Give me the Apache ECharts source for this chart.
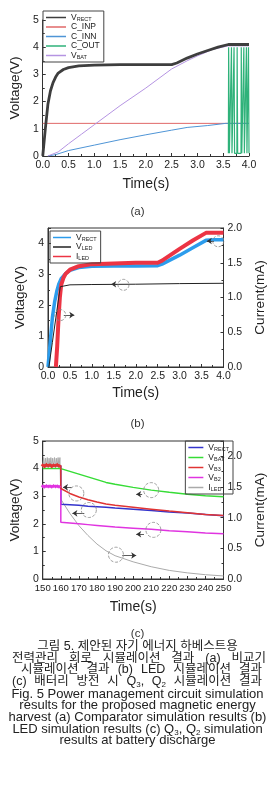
<!DOCTYPE html>
<html>
<head>
<meta charset="utf-8">
<script src="https://cdn.jsdelivr.net/npm/echarts@6/dist/echarts.min.js"></script>
<style>
body { margin:0; background:#fff; }
#chart { position:absolute; left:0; top:0; width:275px; height:788px; }
#cap { position:absolute; left:0; top:641px; width:275px; font-family:'Liberation Sans','Noto Sans CJK KR',sans-serif; font-size:13px; line-height:11.67px; color:#222; }
#cap div { white-space:nowrap; height:11.67px; }
#cap .k { font-size:12.5px; }
#cap sub { font-size:8px; line-height:0; vertical-align:-2px; }
.c { text-align:center; }
.j { text-align:justify; text-align-last:justify; }
</style>
</head>
<body>
<div id="chart"></div>
<div id="cap">
<div class="c k">그림 5. 제안된 자기 에너지 하베스트용</div>
<div class="j k" style="padding:0 9px 0 12px">전력관리 회로 시뮬레이션 결과 (a) 비교기</div>
<div class="j k" style="padding:0 13px 0 21px">시뮬레이션 결과 (b) LED 시뮬레이션 결과</div>
<div class="j k" style="padding:0 13px 0 12px">(c) 배터리 방전 시 Q<sub>3</sub>, Q<sub>2</sub> 시뮬레이션 결과</div>
<div class="c">Fig. 5 Power management circuit simulation</div>
<div class="c">results for the proposed magnetic energy</div>
<div class="c">harvest (a) Comparator simulation results (b)</div>
<div class="c">LED simulation results (c) Q<sub>3</sub>, Q<sub>2</sub> simulation</div>
<div class="c">results at battery discharge</div>
</div>
<script>
// ---- (a) comparator ----
let aRectT = [0, 0.05, 0.1, 0.15, 0.2, 0.25, 0.3, 0.4, 0.5, 0.7, 1.0, 1.5, 2.0, 2.5, 2.6, 2.8, 3.0, 3.2, 3.4, 3.6, 3.8, 4.0];
let aRectV = [0, 1.0, 1.9, 2.4, 2.7, 2.9, 3.05, 3.18, 3.25, 3.31, 3.34, 3.36, 3.36, 3.36, 3.42, 3.6, 3.75, 3.88, 4.0, 4.1, 4.1, 4.1];
let aInpT = [0, 4.0];
let aInpV = [1.2, 1.2];
let aInnT = [0.1, 0.25, 0.5, 1.0, 1.5, 2.0, 2.5, 2.8, 3.2, 3.55, 4.0];
let aInnV = [0, 0.05, 0.2, 0.4, 0.6, 0.78, 0.95, 1.05, 1.12, 1.2, 1.2];
let aOutT = [3.6, 3.605, 3.615, 3.62, 3.655, 3.66, 3.665, 3.67, 3.705, 3.71, 3.715, 3.72, 3.765, 3.77, 3.775, 3.78, 3.845, 3.85, 3.855, 3.86, 3.895, 3.9, 3.905, 3.91, 3.945, 3.95, 3.955, 3.96, 3.985, 3.99, 3.995, 4.0];
let aOutV = [0.1, 4.0, 4.0, 0.1, 0.1, 4.0, 4.0, 0.1, 0.1, 4.0, 4.0, 0.1, 0.1, 4.0, 4.0, 0.1, 0.1, 4.0, 4.0, 0.1, 0.1, 4.0, 4.0, 0.1, 0.1, 4.0, 4.0, 0.1, 0.1, 4.0, 4.0, 0.1];
let aBatT = [0.1, 0.3, 0.5, 0.75, 1.0, 1.5, 2.0, 2.5, 2.8, 3.0, 3.3, 3.6, 4.0];
let aBatV = [0, 0.15, 0.45, 0.8, 1.15, 1.85, 2.5, 3.2, 3.5, 3.68, 3.92, 4.05, 4.05];

// ---- (b) LED ----
let bRectT = [0, 0.05, 0.1, 0.15, 0.2, 0.25, 0.3, 0.4, 0.5, 0.7, 1.0, 1.5, 2.0, 2.5, 2.6, 3.0, 3.3, 3.6, 3.8, 4.0];
let bRectV = [0, 0.8, 1.6, 2.1, 2.45, 2.7, 2.86, 3.02, 3.13, 3.22, 3.26, 3.27, 3.27, 3.28, 3.33, 3.62, 3.86, 4.1, 4.12, 4.12];
let bLedT = [0.02, 0.1, 0.2, 0.28, 0.3, 0.5, 1.0, 2.0, 3.0, 4.0];
let bLedV = [0, 0.8, 1.8, 2.6, 2.65, 2.66, 2.67, 2.68, 2.7, 2.71];
let bIledT = [0.18, 0.21, 0.24, 0.27, 0.3, 0.35, 0.4, 0.5, 0.7, 1.0, 1.5, 2.0, 2.5, 2.6, 3.0, 3.3, 3.6, 4.0];
let bIledV = [0, 0.3, 0.7, 1.0, 1.18, 1.28, 1.34, 1.4, 1.45, 1.48, 1.49, 1.5, 1.5, 1.53, 1.7, 1.82, 1.93, 1.93];

// ---- (c) discharge ----
let cT = [160, 165, 170, 175, 180, 185, 190, 200, 210, 220, 230, 240, 250];
let cRectV = [2.71, 2.69, 2.67, 2.64, 2.62, 2.6, 2.57, 2.53, 2.48, 2.43, 2.39, 2.34, 2.29];
let cBatV = [4.0, 3.9, 3.8, 3.7, 3.6, 3.5, 3.43, 3.32, 3.22, 3.14, 3.07, 3.02, 2.98];
let cB3V = [3.28, 3.1, 2.97, 2.87, 2.79, 2.72, 2.67, 2.6, 2.53, 2.46, 2.4, 2.34, 2.3];
let cB2V = [2.06, 2.03, 2.0, 1.97, 1.94, 1.91, 1.88, 1.84, 1.8, 1.75, 1.71, 1.67, 1.64];
let cIledV = [1.3, 1.07, 0.87, 0.71, 0.57, 0.46, 0.38, 0.28, 0.2, 0.14, 0.1, 0.07, 0.05];
let cPreT = [150, 151, 152, 153, 154, 155, 156, 157, 158, 159, 160];
let cPreRect = [4.1, 4.1, 4.1, 4.1, 4.1, 4.1, 4.1, 4.1, 4.1, 4.1, 4.1];
let cPreBat = [4.0, 4.0, 4.0, 4.0, 4.0, 4.0, 4.0, 4.0, 4.0, 4.0, 4.0];
let cPreB3 = [4.12, 4.08, 4.14, 4.1, 4.13, 4.08, 4.12, 4.1, 4.14, 4.09, 4.1];
let cPreB2 = [3.36, 3.34, 3.37, 3.35, 3.36, 3.34, 3.37, 3.35, 3.36, 3.34, 3.35];
let cPreIledT = [150, 150.5, 151, 151.5, 152, 152.5, 153, 153.5, 154, 154.5, 155, 155.5, 156, 156.5, 157, 157.5, 158, 158.5, 159, 159.5, 160];
let cPreIledV = [1.82, 1.98, 1.82, 1.97, 1.83, 1.98, 1.82, 1.97, 1.83, 1.98, 1.82, 1.97, 1.83, 1.98, 1.82, 1.97, 1.83, 1.98, 1.82, 1.98, 2.0];

let legendNames = {
    aRect: '{v|V}{s|RECT}', aInp: '{v|C_INP}', aInn: '{v|C_INN}', aOut: '{v|C_OUT}', aBat: '{v|V}{s|BAT}',
    bRect: '{v|V}{s|RECT}', bLed: '{v|V}{s|LED}', bIled: '{v|I}{s|LED}',
    cRect: '{v|V}{s|RECT}', cBat: '{v|V}{s|BAT}', cB3: '{v|V}{s|B3}', cB2: '{v|V}{s|B2}', cIled: '{v|I}{s|LED}'
};

function pts(ts, vs)
{
    let out = [];
    for (let i = 0; i < ts.length; i++)
    {
        out.push([ts[i], vs[i]]);
    }
    return out;
}

let font = "'Liberation Sans', Arial, sans-serif";
let axisCol = '#333';

function makeLegend(names, pos, gap, iw)
{
    return Object.assign({
        data: names,
        orient: 'vertical',
        icon: 'rect',
        itemWidth: iw,
        itemHeight: 1.5,
        itemGap: gap,
        padding: [2, 4, 2, 3],
        borderColor: '#444',
        borderWidth: 1,
        selectedMode: false,
        formatter: function (n) { return legendNames[n]; },
        textStyle: {
            fontFamily: font,
            color: '#222',
            rich: {
                v: { fontSize: 8.5, lineHeight: 9, verticalAlign: 'bottom', fontFamily: font, color: '#222' },
                s: { fontSize: 5.5, lineHeight: 9, verticalAlign: 'bottom', fontFamily: font, color: '#222' }
            }
        }
    }, pos);
}

function xAx(grid, min, max, interval, fmt, gap, fs)
{
    return {
        type: 'value', gridIndex: grid, min: min, max: max, interval: interval,
        name: 'Time(s)', nameLocation: 'middle', nameGap: gap,
        nameTextStyle: { fontSize: 14, fontFamily: font, color: '#222' },
        axisLine: { show: true, lineStyle: { color: axisCol } },
        axisTick: { show: true, inside: true, length: 3, lineStyle: { color: axisCol } },
        minorTick: { show: true, splitNumber: 2, length: 2, lineStyle: { color: axisCol } },
        splitLine: { show: false },
        axisLabel: { fontSize: fs, fontFamily: font, color: '#222', margin: 4, formatter: fmt, hideOverlap: false }
    };
}

function yAx(grid, min, max, interval, name, gap, pos, fmt)
{
    return {
        type: 'value', gridIndex: grid, min: min, max: max, interval: interval, position: pos,
        name: name, nameLocation: 'middle', nameGap: gap,
        nameTextStyle: { fontSize: 13.5, fontFamily: font, color: '#222' },
        axisLine: { show: true, lineStyle: { color: axisCol } },
        axisTick: { show: true, inside: true, length: 3, lineStyle: { color: axisCol } },
        minorTick: { show: true, splitNumber: 2, length: 2, lineStyle: { color: axisCol } },
        splitLine: { show: false },
        axisLabel: { fontSize: 10.5, fontFamily: font, color: '#222', margin: 4, showMaxLabel: max % interval === 0, formatter: fmt }
    };
}

function ln(name, xi, yi, data, color, width, extra)
{
    let s = {
        name: name, type: 'line', xAxisIndex: xi, yAxisIndex: yi, data: data,
        showSymbol: false, symbol: 'none', animation: false, silent: true,
        color: color,
        lineStyle: { color: color, width: width }
    };
    return Object.assign(s, extra || {});
}

function circles(list, size)
{
    return {
        silent: true,
        symbol: 'circle',
        symbolSize: size,
        label: { show: false },
        itemStyle: { color: 'rgba(0,0,0,0)', borderColor: '#888', borderType: 'dashed', borderWidth: 0.8 },
        data: list.map(c => ({ coord: c }))
    };
}

function arrows(list)
{
    return {
        silent: true,
        symbol: ['none', 'arrow'],
        symbolSize: 5,
        label: { show: false },
        lineStyle: { color: '#333', width: 0.8, type: 'solid' },
        data: list.map(a => [{ coord: a[0] }, { coord: a[1] }])
    };
}

let f1 = v => v.toFixed(1);
let f0 = v => String(v);

let myChart = echarts.init(document.getElementById('chart'));

let option = {
    animation: false,
    grid: [
        { left: 39, top: 20, width: 210, height: 136 },
        { left: 48, top: 228, width: 191, height: 139, show: true, borderColor: axisCol, borderWidth: 1 },
        { left: 40, top: 441, width: 193, height: 138, show: true, borderColor: axisCol, borderWidth: 1 }
    ],
    xAxis: [
        xAx(0, 0, 4, 0.5, f1, 21, 10.5),
        xAx(1, 0, 4, 0.5, f1, 19, 10.5),
        xAx(2, 150, 250, 10, f0, 21, 9.6)
    ],
    yAxis: [
        yAx(0, 0, 5, 1, 'Voltage(V)', 17, 'left', f0),
        yAx(1, 0, 4.5, 1, 'Voltage(V)', 14, 'left', f0),
        yAx(1, 0, 2, 0.5, 'Current(mA)', 21, 'right', f1),
        yAx(2, 0, 5, 1, 'Voltage(V)', 10, 'left', f0),
        yAx(2, 0, 2.25, 0.5, 'Current(mA)', 22, 'right', f1)
    ],
    legend: [
        makeLegend(['aRect', 'aInp', 'aInn', 'aOut', 'aBat'], { left: 43, top: 11 }, 0.5, 20),
        makeLegend(['bRect', 'bLed', 'bIled'], { left: 50, top: 231 }, 0.5, 18),
        makeLegend(['cRect', 'cBat', 'cB3', 'cB2', 'cIled'], { right: 42, top: 441 }, 1, 15)
    ],
    title: [
        { text: '(a)', left: 'center', top: 201, textStyle: { fontSize: 11.5, fontWeight: 'normal', fontFamily: font, color: '#333' } },
        { text: '(b)', left: 'center', top: 413, textStyle: { fontSize: 11.5, fontWeight: 'normal', fontFamily: font, color: '#333' } },
        { text: '(c)', left: 'center', top: 623, textStyle: { fontSize: 11.5, fontWeight: 'normal', fontFamily: font, color: '#333' } }
    ],
    series: [
        // (a)
        ln('aInp', 0, 0, pts(aInpT, aInpV), '#e06868', 1),
        ln('aInn', 0, 0, pts(aInnT, aInnV), '#4f95d6', 1),
        ln('aOut', 0, 0, pts(aOutT, aOutV), '#2fb27a', 1.2),
        ln('aBat', 0, 0, pts(aBatT, aBatV), '#b594e2', 1),
        ln('aRect', 0, 0, pts(aRectT, aRectV), '#3e3e3e', 2.8),
        // (b)
        ln('bRect', 1, 1, pts(bRectT, bRectV), '#2c9cec', 3.5),
        ln('bIled', 1, 2, pts(bIledT, bIledV), '#ec3444', 4),
        ln('bLed', 1, 1, pts(bLedT, bLedV), '#222222', 1, {
            markPoint: circles([[0.28, 1.68], [1.72, 2.66], [3.88, 4.07]], 11),
            markLine: arrows([[[0.36, 1.68], [0.6, 1.68]], [[1.6, 2.68], [1.44, 2.68]], [[3.78, 4.08], [3.62, 4.08]]])
        }),
        // (c)
        ln('cIled', 2, 4, pts(cPreIledT, cPreIledV).concat(pts(cT, cIledV)), '#aaaaaa', 1),
        ln('cRect', 2, 3, pts(cPreT, cPreRect).concat(pts(cT, cRectV)), '#3434cc', 1.5),
        ln('cBat', 2, 3, pts(cPreT, cPreBat).concat(pts(cT, cBatV)), '#36dc36', 1.5),
        ln('cB2', 2, 3, pts(cPreT, cPreB2).concat(pts(cT, cB2V)), '#e034e0', 1.5, {
            showSymbol: true, symbol: 'diamond',
            symbolSize: v => (v[0] < 160 ? 4 : 0)
        }),
        ln('cB3', 2, 3, pts(cPreT, cPreB3).concat(pts(cT, cB3V)), '#e03434', 1.5, {
            showSymbol: true, symbol: 'diamond',
            symbolSize: v => (v[0] < 160 ? 4 : 0),
            markPoint: circles([[168.6, 3.1], [175.5, 2.5], [210, 3.22], [211.2, 1.78], [190.5, 0.88]], 15),
            markLine: arrows([
                [[166, 3.32], [161.2, 3.32]],
                [[173, 2.38], [166.4, 2.38]],
                [[205, 3.07], [201.7, 3.07]],
                [[206, 1.62], [201.7, 1.62]],
                [[194, 0.85], [201.7, 0.85]]
            ])
        })
    ]
};

myChart.setOption(option);
</script>
</body>
</html>
